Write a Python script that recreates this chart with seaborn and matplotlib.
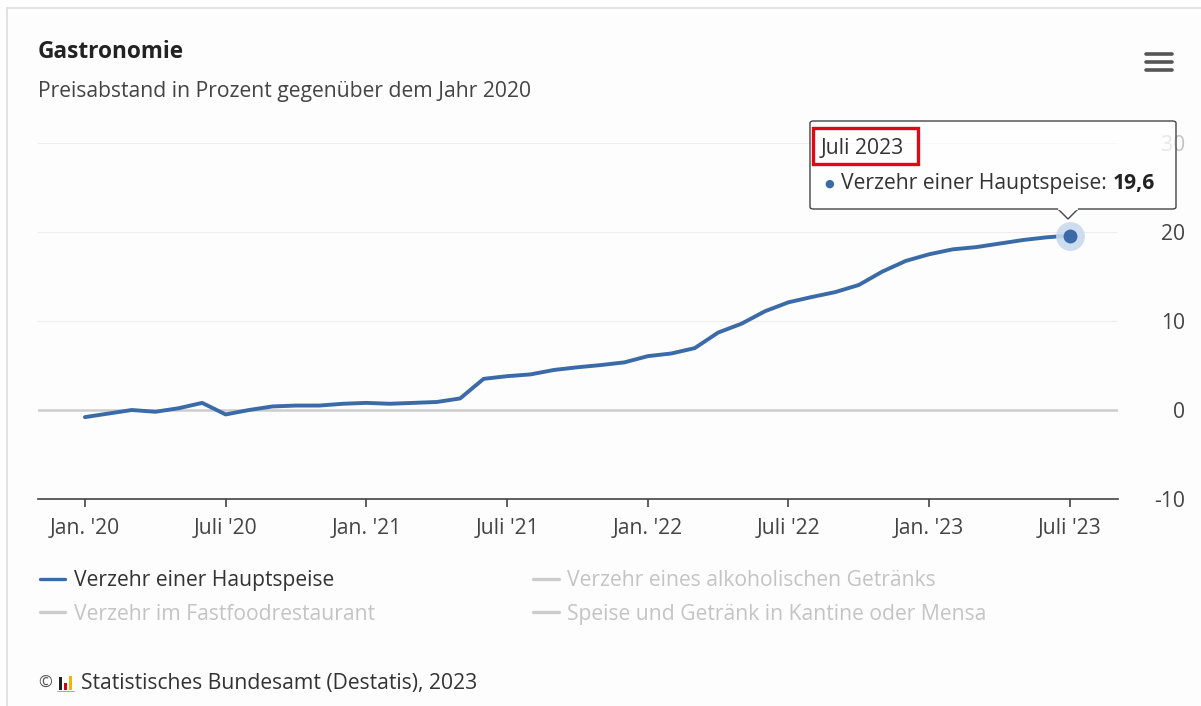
import matplotlib
matplotlib.use("Agg")
import matplotlib.pyplot as plt
import seaborn as sns
import pandas as pd
from matplotlib.lines import Line2D
from matplotlib.patches import Rectangle, FancyBboxPatch, Polygon

# ---- data ----
months = list(range(43))  # Jan 2020 .. Jul 2023
values = [-0.8, -0.4, 0.0, -0.2, 0.2, 0.8, -0.5, 0.0, 0.4, 0.5, 0.5, 0.7,
          0.8, 0.7, 0.8, 0.9, 1.3, 3.5, 3.8, 4.0, 4.5, 4.8, 5.05, 5.35,
          6.05, 6.35, 6.95, 8.7, 9.7, 11.1, 12.1, 12.7, 13.25, 14.05, 15.55, 16.75,
          17.5, 18.05, 18.3, 18.7, 19.1, 19.4, 19.6]
xtick_pos = [0, 6, 12, 18, 24, 30, 36, 42]
xtick_labels = ["Jan. '20", "Juli '20", "Jan. '21", "Juli '21", "Jan. '22",
                "Juli '22", "Jan. '23", "Juli '23"]
ytick_vals = [-10, 0, 10, 20, 30]
series_names = ["Verzehr einer Hauptspeise", "Verzehr im Fastfoodrestaurant",
                "Verzehr eines alkoholischen Getränks",
                "Speise und Getränk in Kantine oder Mensa"]
title = "Gastronomie"
subtitle = "Preisabstand in Prozent gegenüber dem Jahr 2020"
source = "Statistisches Bundesamt (Destatis), 2023"
tooltip_title = "Juli 2023"
tooltip_label = "Verzehr einer Hauptspeise: "
tooltip_value = "19,6"

df = pd.DataFrame({"month": months, "value": values})

sns.set_theme(style="white")
FONT = ["Open Sans", "DejaVu Sans"]
plt.rcParams["font.family"] = FONT

W, H = 1201, 706
BG = "#fdfdfd"
BLUE = "#3b6aa8"
FS = 15.2
fig = plt.figure(figsize=(W / 100, H / 100), dpi=100, facecolor=BG)

def fx(x):
    return x / W

def fy(y):
    return 1 - y / H

ax = fig.add_axes([fx(38), fy(499), fx(1118) - fx(38), fy(143) - fy(499)])
ax.set_facecolor(BG)

# grid lines
for v in ytick_vals:
    if v == 0:
        ax.axhline(v, color="#cccccc", lw=1.8, zorder=1)
    elif v != -10:
        ax.axhline(v, color="#eeeeee", lw=0.8, zorder=1)

sns.lineplot(data=df, x="month", y="value", ax=ax, color=BLUE, lw=2.8, zorder=3)
last = df.iloc[-1]
ax.scatter([last["month"]], [last["value"]], s=430, color="#c9d9ee", alpha=0.9, zorder=4, lw=0)
ax.scatter([last["month"]], [last["value"]], s=100, color=BLUE, zorder=5, lw=0)

ax.set_xlim(-2, 44.05)
ax.set_ylim(-10, 30)
ax.set_xlabel("")
ax.set_ylabel("")
for s in ["top", "left", "right"]:
    ax.spines[s].set_visible(False)
ax.spines["bottom"].set_color("#444444")
ax.spines["bottom"].set_linewidth(1.2)

ax.set_xticks(xtick_pos)
ax.set_xticklabels(xtick_labels, fontsize=FS, color="#444444")
ax.tick_params(axis="x", bottom=True, length=6, width=1.2, color="#444444", pad=8)

ax.yaxis.tick_right()
ax.set_yticks(ytick_vals)
ax.set_yticklabels([str(v) for v in ytick_vals], fontsize=FS, color="#444444")
for lab in ax.get_yticklabels():
    lab.set_horizontalalignment("right")
ax.tick_params(axis="y", right=False, left=False, pad=42.5)
ax.get_yticklabels()[-1].set_color("#c4c4c4")

# frame borders
fig.add_artist(Line2D([fx(7), 1], [fy(8), fy(8)], color="#dddddd", lw=1.2))
fig.add_artist(Line2D([fx(7), fx(7)], [0, fy(8)], color="#dddddd", lw=1.2))

# title / subtitle
fig.text(fx(38), fy(52), title, fontsize=16.3, fontweight="bold", color="#222222", va="center", ha="left")
fig.text(fx(38), fy(92), subtitle, fontsize=15.2, color="#444444", va="center", ha="left")

# menu icon
for yy in [54, 62, 70]:
    fig.add_artist(Line2D([fx(1146), fx(1172)], [fy(yy), fy(yy)], color="#555555", lw=2.6,
                          solid_capstyle="round"))

# tooltip
tb = FancyBboxPatch((fx(810), fy(209)), fx(1176) - fx(810), fy(121) - fy(209),
                    boxstyle="round,pad=0,rounding_size=0.003", transform=fig.transFigure,
                    facecolor="white", edgecolor="none", lw=0, alpha=0.6, zorder=10)
fig.add_artist(tb)
tbe = FancyBboxPatch((fx(810), fy(209)), fx(1176) - fx(810), fy(121) - fy(209),
                     boxstyle="round,pad=0,rounding_size=0.003", transform=fig.transFigure,
                     facecolor="none", edgecolor="#444444", lw=1.0, zorder=10.5)
fig.add_artist(tbe)
tri = Polygon([(fx(1058), fy(209)), (fx(1068), fy(219)), (fx(1078), fy(209))], closed=False,
              transform=fig.transFigure, facecolor="white", edgecolor="#444444", lw=1.0, zorder=11)
fig.add_artist(tri)
fig.add_artist(Line2D([fx(1059), fx(1077)], [fy(209), fy(209)], color="white", lw=1.6, zorder=12))
fig.add_artist(Rectangle((fx(813), fy(164)), fx(918) - fx(813), fy(128) - fy(164),
                         transform=fig.transFigure, fill=False, edgecolor="#e30613", lw=2.4, zorder=13))
fig.text(fx(821), fy(148), tooltip_title, fontsize=FS, color="#333333", va="center", ha="left", zorder=14)
fig.text(fx(829), fy(184), "●", fontsize=8, color=BLUE, va="center", ha="center", zorder=14)
t1 = fig.text(fx(841), fy(183), tooltip_label, fontsize=FS, color="#333333", va="center", ha="left", zorder=14)
fig.canvas.draw()
bb = t1.get_window_extent()
fig.text(bb.x1 / W, fy(183), tooltip_value, fontsize=FS, fontweight="bold", color="#222222",
         va="center", ha="left", zorder=14)

# legend
colors = [BLUE, "#cccccc", "#cccccc", "#cccccc"]
txtcolors = ["#333333", "#c4c4c4", "#c4c4c4", "#c4c4c4"]
order = [0, 1, 2, 3]
handles = [Line2D([], [], color=colors[i], lw=2.4) for i in order]
leg = fig.legend(handles, [series_names[i] for i in order], ncol=2, loc="upper left",
                 bbox_to_anchor=(fx(40), fy(570)), frameon=False, fontsize=FS,
                 borderpad=0, borderaxespad=0,
                 handlelength=1.2, handletextpad=0.4, columnspacing=7.5, labelspacing=0.6,
                 labelcolor=[txtcolors[i] for i in order])

# footer
fig.text(fx(38), fy(684), "©", fontsize=12, color="#555555", va="center", ha="left")
fig.add_artist(Rectangle((fx(59), fy(690)), fx(3), fy(677) - fy(690), transform=fig.transFigure,
                         color="#222222", lw=0))
fig.add_artist(Rectangle((fx(64), fy(690)), fx(3), fy(683) - fy(690), transform=fig.transFigure,
                         color="#d9001c", lw=0))
fig.add_artist(Rectangle((fx(69), fy(690)), fx(3), fy(676) - fy(690), transform=fig.transFigure,
                         color="#f5b400", lw=0))
fig.add_artist(Line2D([fx(57), fx(74)], [fy(690.5), fy(690.5)], color="#999999", lw=0.6))
fig.text(fx(81), fy(683), source, fontsize=FS, color="#333333", va="center", ha="left")

fig.savefig("out.png", dpi=100, facecolor=BG)
